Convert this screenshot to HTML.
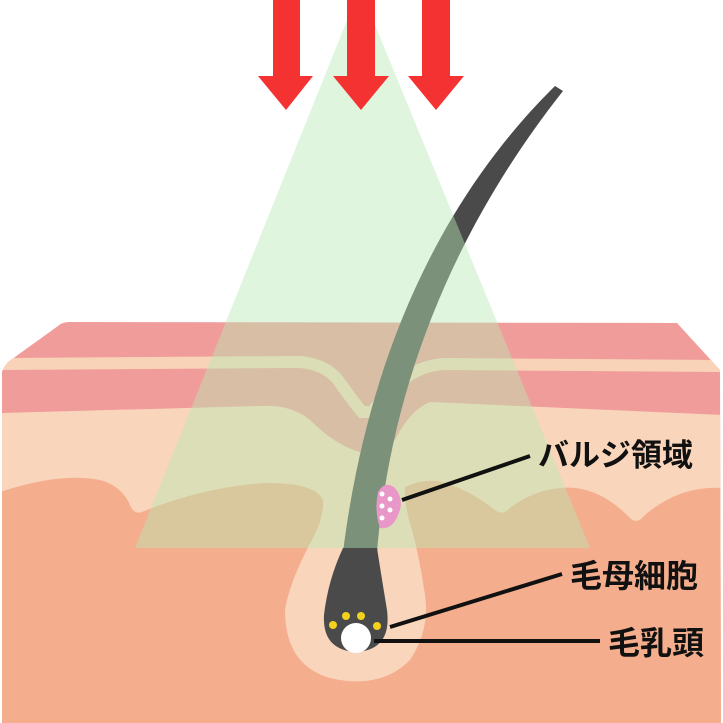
<!DOCTYPE html>
<html><head><meta charset="utf-8"><style>
html,body{margin:0;padding:0;background:#fff;width:723px;height:723px;overflow:hidden}
svg{display:block}
text{font-family:"Liberation Sans","Noto Sans CJK JP",sans-serif;font-weight:bold;fill:#111}
</style></head><body>
<svg width="723" height="723" viewBox="0 0 723 723">
<defs><clipPath id="skin"><path d="M2,723 L2,372 Q3,368 8,362 L58,326 Q62,322 70,322 L677,323 L720,370 L721,723Z"/></clipPath></defs>
<rect width="723" height="723" fill="#fff"/>
<g clip-path="url(#skin)">
<rect width="723" height="723" fill="#f09c9a"/>
<path d="M0,364 L300,362 Q325,364 338,380 Q352,400 362,412 L372,412 Q385,395 400,382 Q420,365 445,364 L723,366" fill="none" stroke="#f8d3b8" stroke-width="12"/>
<path d="M0,413 L260,406 Q290,404 310,420 Q335,445 360,452 Q380,456 395,440 Q410,410 430,402 L723,415 L723,723 L0,723Z" fill="#f9d5bb"/>
<path d="M0,492 Q60,472 100,480 Q122,486 130,505 Q134,515 142,512 Q200,488 263,483 Q315,482 323,500 L405,487 Q425,478 442,482 Q470,490 495,510 Q502,516 510,508 Q540,485 576,488 Q605,492 630,518 Q637,525 645,515 Q680,485 723,488 L723,723 L0,723Z" fill="#f5ae8d"/>
</g>
<path d="M323,498 Q325,515 312,540 Q290,580 285,610 Q285,665 330,678 Q380,690 410,660 Q430,630 425,595 Q420,560 412,530 Q404,505 405,487 Q390,470 370,470 Q330,478 323,498Z" fill="#f9d5bb"/>
<path d="M555,86 C480,160 375,300 343,552 L377,552 C392,370 465,215 563,91 Z" fill="#4a4a4a"/>
<path d="M352,8 L368,8 L590,548 L135,548 Z" fill="#b8e8b4" fill-opacity="0.45"/>
<path d="M378,492 Q385,480 395,488 Q405,500 398,515 Q392,530 380,528 Q374,510 378,492Z" fill="#e897c8"/>
<g fill="#fff"><circle cx="382" cy="494" r="2.5"/><circle cx="390" cy="499" r="2.5"/><circle cx="382" cy="506" r="2.5"/><circle cx="390" cy="510" r="2.5"/><circle cx="382" cy="518" r="2.5"/></g>
<path d="M343,548 L377,548 Q382,580 387,610 Q392,650 356,652 Q322,650 324,615 Q328,580 343,548Z" fill="#4a4a4a"/>
<g fill="#f2d21a"><circle cx="333" cy="625" r="4"/><circle cx="346" cy="616" r="4"/><circle cx="361" cy="616" r="4"/><circle cx="377" cy="626" r="4"/></g>
<circle cx="356" cy="638" r="15" fill="#fff"/>
<g fill="#f53232">
<path d="M273,0 H300 V76 H313 L286,110 L258,76 H273Z"/>
<path d="M347,0 H375 V76 H389 L361,110 L333,76 H347Z"/>
<path d="M422,0 H450 V76 H464 L436,110 L408,76 H422Z"/>
</g>
<g stroke="#111" stroke-width="4" fill="none">
<line x1="402" y1="500" x2="530" y2="456"/>
<line x1="390" y1="627" x2="562" y2="574"/>
<line x1="374" y1="641" x2="600" y2="641"/>
</g>
<text x="538" y="466" font-size="31">バルジ領域</text>
<text x="570" y="587" font-size="32">毛母細胞</text>
<text x="608" y="654" font-size="32">毛乳頭</text>
</svg>
</body></html>
